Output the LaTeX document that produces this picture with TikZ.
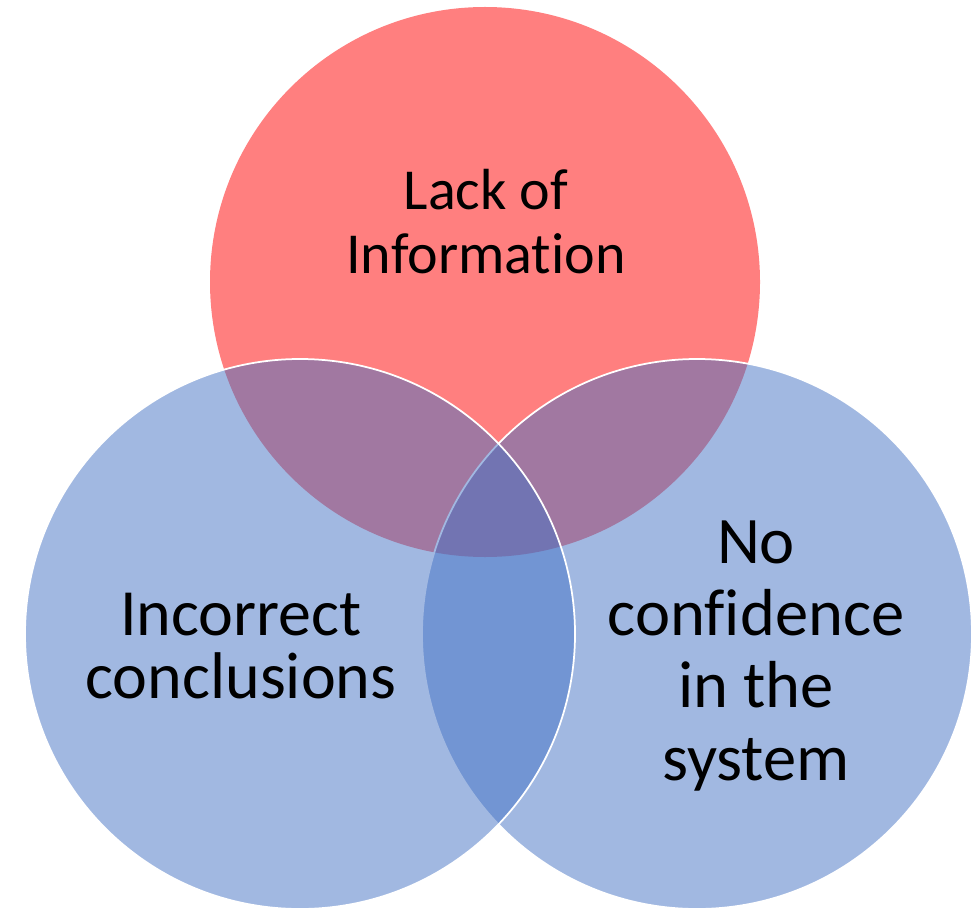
\documentclass[tikz,border=0pt]{standalone}
\usepackage{fontspec}
\setmainfont{Carlito}[Ligatures=NoCommon]
\definecolor{vennred}{HTML}{FF0000}
\definecolor{vennblue}{HTML}{4472C4}
\begin{document}
\begin{tikzpicture}[x=1pt,y=-1pt,
  venn/.style={circle, minimum size=550pt, inner sep=0pt, outer sep=0pt},
  redset/.style={venn, fill=vennred, fill opacity=0.5},
  blueset/.style={venn, fill=vennblue, fill opacity=0.5, draw=white, draw opacity=1, line width=1.75pt},
  lbl/.style={align=center, anchor=base, text=black, inner sep=0pt}]
\useasboundingbox (0,0) rectangle (973,909);
\node[redset] (lack) at (485,282) {};
\node[blueset] (noconf) at (697,634) {};
\node[blueset] (incorr) at (300,634) {};
\node[lbl, font=\fontsize{58}{64}\selectfont] (lacktext) at (486,273.3) {Lack of\\Information};
\node[lbl, font=\fontsize{66}{63}\selectfont] (incorrtext) at (241,698) {Incorrect\\conclusions};
\node[lbl, font=\fontsize{66.5}{72.3}\selectfont] (noconftext) at (756,780) {No\\confidence\\in the\\system};
\end{tikzpicture}
\end{document}
